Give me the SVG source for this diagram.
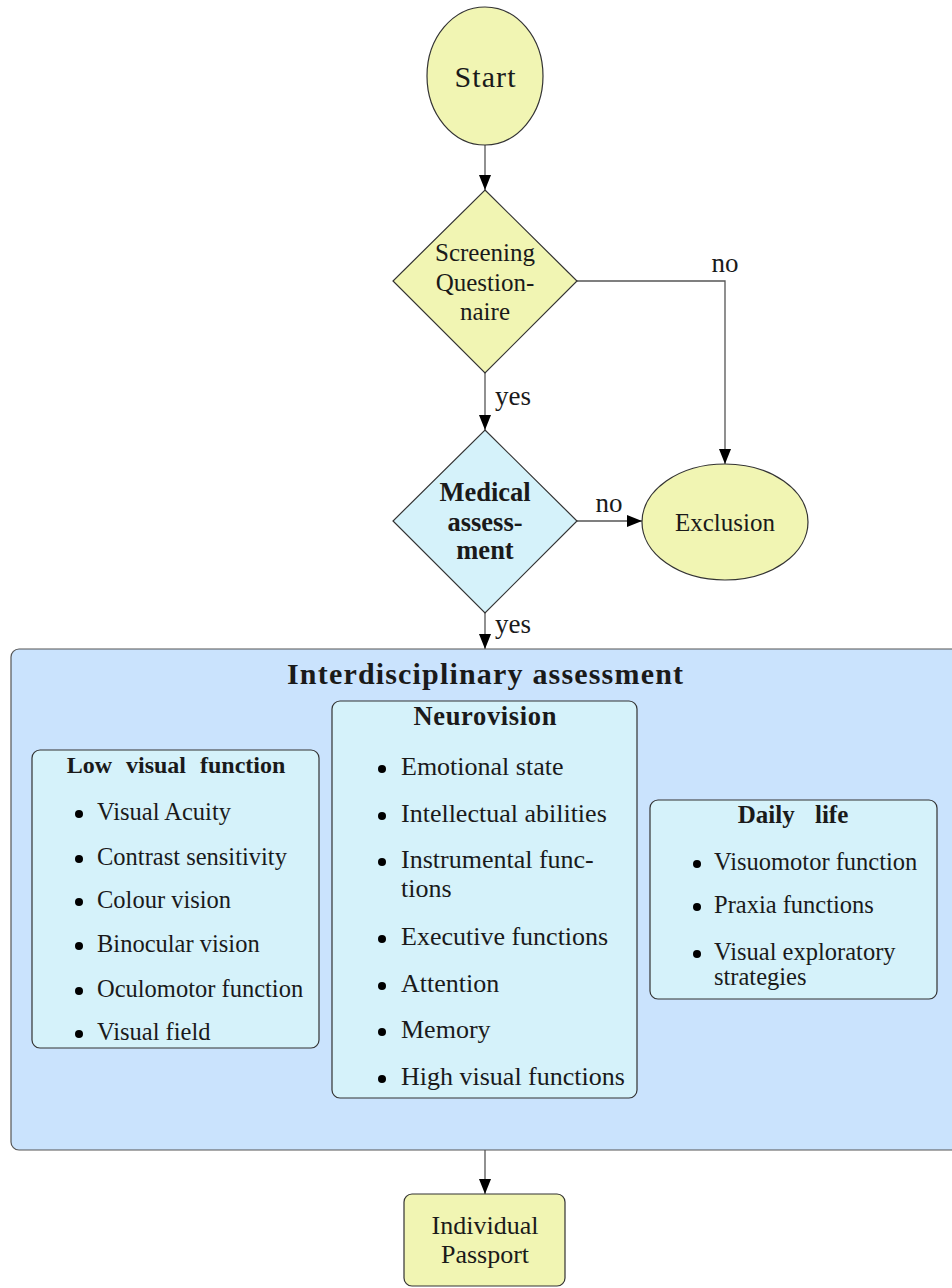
<svg xmlns="http://www.w3.org/2000/svg" width="952" height="1288" viewBox="0 0 952 1288" font-family="'Liberation Serif', 'DejaVu Serif', serif">
<defs>
<marker id="arr" markerUnits="userSpaceOnUse" markerWidth="16" markerHeight="14" refX="15" refY="6" orient="auto">
<path d="M0,0 L15,6 L0,12 Z" fill="#000"/>
</marker>
<style>
text{font-family:'Liberation Serif','DejaVu Serif',serif;fill:#1a1a1a}
.b{font-weight:bold}
.c{text-anchor:middle}
.yel{fill:#f1f5b3;stroke:#333;stroke-width:1.2}
.cy{fill:#d5f2fa;stroke:#333;stroke-width:1.2}
.blue{fill:#cae3fd;stroke:#555;stroke-width:1.2}
.ln{fill:none;stroke:#555;stroke-width:1.3;marker-end:url(#arr)}
.lbl{font-size:27px}
.li{font-size:24.5px}
.ln2{font-size:26px}
.ld{font-size:24.5px}
</style>
</defs>
<rect width="952" height="1288" fill="#fff"/>
<g id="connectors">
<path class="ln" d="M485,145 V190"/>
<path class="ln" d="M485,373 V430"/>
<path class="ln" d="M577,281 H725 V464"/>
<path class="ln" d="M577,521 H642"/>
<path class="ln" d="M485,613 V649"/>
<path class="ln" d="M485,1150 V1194"/>
<text class="lbl c" x="725" y="272">no</text>
<text class="lbl" x="495" y="405">yes</text>
<text class="lbl c" x="609" y="512">no</text>
<text class="lbl" x="495" y="633">yes</text>
</g>
<g id="start">
<ellipse class="yel" cx="485" cy="76" rx="58" ry="69"/>
<text class="c" x="485" y="87" font-size="30" textLength="61">Start</text>
</g>
<g id="screening">
<polygon class="yel" points="485,190 577,281 485,373 393,281"/>
<text class="c" x="485" y="261" font-size="25">Screening</text>
<text class="c" x="485" y="291" font-size="25">Question-</text>
<text class="c" x="485" y="320" font-size="25">naire</text>
</g>
<g id="medical">
<polygon class="cy" points="485,430 577,521 485,613 393,521"/>
<text class="c b" x="485" y="501" font-size="26.5">Medical</text>
<text class="c b" x="485" y="531" font-size="26.5">assess-</text>
<text class="c b" x="485" y="559" font-size="26.5">ment</text>
</g>
<g id="exclusion">
<ellipse class="yel" cx="725" cy="522" rx="83" ry="58"/>
<text class="c" x="725" y="531" font-size="25">Exclusion</text>
</g>
<g id="interdisciplinary">
<rect class="blue" x="11" y="649" width="960" height="501" rx="8"/>
<text class="c b" x="485" y="684" font-size="30" textLength="396">Interdisciplinary assessment</text>
</g>
<g id="lowvisual">
<rect class="cy" x="32" y="750" width="287" height="298" rx="8"/>
<text class="c b" x="176" y="773" font-size="24" word-spacing="8">Low visual function</text>
<g fill="#000">
<circle cx="79" cy="814" r="4"/><circle cx="79" cy="859" r="4"/><circle cx="79" cy="902" r="4"/>
<circle cx="79" cy="946" r="4"/><circle cx="79" cy="991" r="4"/><circle cx="79" cy="1034" r="4"/>
</g>
<text class="li" x="97" y="820">Visual Acuity</text>
<text class="li" x="97" y="865">Contrast sensitivity</text>
<text class="li" x="97" y="908">Colour vision</text>
<text class="li" x="97" y="952">Binocular vision</text>
<text class="li" x="97" y="997">Oculomotor function</text>
<text class="li" x="97" y="1040">Visual field</text>
</g>
<g id="neurovision">
<rect class="cy" x="332" y="701" width="305" height="397" rx="8"/>
<text class="c b" x="485" y="725" font-size="26.5" textLength="143">Neurovision</text>
<g fill="#000">
<circle cx="382" cy="769" r="4"/><circle cx="382" cy="816" r="4"/><circle cx="382" cy="862" r="4"/>
<circle cx="382" cy="939" r="4"/><circle cx="382" cy="986" r="4"/><circle cx="382" cy="1032" r="4"/>
<circle cx="382" cy="1079" r="4"/>
</g>
<text class="ln2" x="401" y="775">Emotional state</text>
<text class="ln2" x="401" y="822">Intellectual abilities</text>
<text class="ln2" x="401" y="868">Instrumental func-</text>
<text class="ln2" x="401" y="897">tions</text>
<text class="ln2" x="401" y="945">Executive functions</text>
<text class="ln2" x="401" y="992">Attention</text>
<text class="ln2" x="401" y="1038">Memory</text>
<text class="ln2" x="401" y="1085">High visual functions</text>
</g>
<g id="dailylife">
<rect class="cy" x="650" y="800" width="287" height="199" rx="8"/>
<text class="c b" x="793" y="823" font-size="25" word-spacing="14">Daily life</text>
<g fill="#000">
<circle cx="697" cy="864" r="4"/><circle cx="697" cy="907" r="4"/><circle cx="697" cy="954" r="4"/>
</g>
<text class="ld" x="714" y="870">Visuomotor function</text>
<text class="ld" x="714" y="913">Praxia functions</text>
<text class="ld" x="714" y="960">Visual exploratory</text>
<text class="ld" x="714" y="985">strategies</text>
</g>
<g id="passport">
<rect class="yel" x="404" y="1194" width="161" height="92" rx="8"/>
<text class="c" x="485" y="1234" font-size="26">Individual</text>
<text class="c" x="485" y="1263" font-size="26">Passport</text>
</g>
</svg>
